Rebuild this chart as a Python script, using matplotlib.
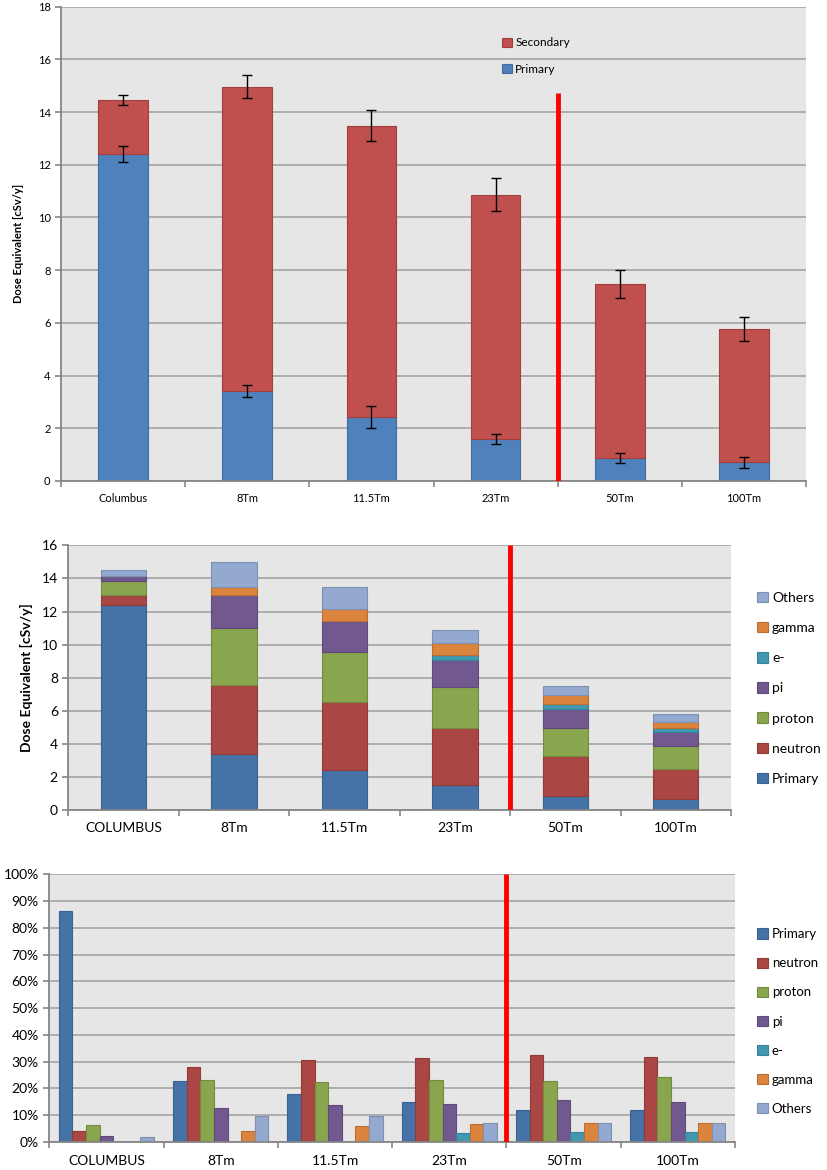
import numpy as np
import matplotlib.pyplot as plt
from matplotlib.ticker import PercentFormatter, FixedLocator

plt.rcParams['font.family'] = ['Lato', 'DejaVu Sans']

top_categories = ["Columbus", "8Tm", "11.5Tm", "23Tm", "50Tm", "100Tm"]
categories = ["COLUMBUS", "8Tm", "11.5Tm", "23Tm", "50Tm", "100Tm"]

# top chart: primary / secondary dose equivalent [cSv/y]
primary_dose = [12.4, 3.42, 2.43, 1.59, 0.88, 0.71]
primary_err = [0.30, 0.24, 0.42, 0.19, 0.18, 0.21]
secondary_dose = [2.05, 11.55, 11.05, 9.28, 6.60, 5.07]
total_err = [0.20, 0.43, 0.59, 0.61, 0.53, 0.45]

# middle chart: contributions per particle [cSv/y]
species = ["Primary", "neutron", "proton", "pi", "e-", "gamma", "Others"]
dose_primary = [12.4, 3.39, 2.42, 1.53, 0.87, 0.69]
dose_neutron = [0.58, 4.17, 4.09, 3.43, 2.40, 1.81]
dose_proton = [0.89, 3.47, 3.03, 2.50, 1.69, 1.37]
dose_pi = [0.30, 1.95, 1.89, 1.59, 1.14, 0.87]
dose_eminus = [0.0, 0.0, 0.0, 0.30, 0.29, 0.19]
dose_gamma = [0.0, 0.53, 0.75, 0.74, 0.56, 0.40]
dose_others = [0.31, 1.49, 1.32, 0.80, 0.56, 0.45]

# bottom chart: relative contributions [%]
pct_primary = [86.3, 22.8, 18.0, 14.8, 12.1, 12.1]
pct_neutron = [4.0, 27.9, 30.7, 31.5, 32.4, 31.8]
pct_proton = [6.3, 23.0, 22.6, 23.2, 22.7, 24.2]
pct_pi = [2.3, 12.8, 14.0, 14.2, 15.6, 14.8]
pct_eminus = [0.0, 0.0, 0.0, 3.4, 3.7, 3.7]
pct_gamma = [0.0, 4.0, 5.9, 6.7, 7.2, 7.2]
pct_others = [1.8, 9.8, 9.8, 7.0, 7.2, 7.2]

colors = ["#4572A7", "#AA4643", "#89A54E", "#71588F", "#4198AF", "#DB843D", "#93A9CF"]
edges = ["#3a6190", "#8f3b38", "#748c42", "#5f4a79", "#37819a", "#b96f33", "#7d90b0"]

bg = "#e6e6e6"
grid_c = "#a9a9a9"
axis_c = "#868686"

x = np.arange(len(categories))


def style_axes(ax, ymax, ystep, tick_size):
    ax.set_facecolor(bg)
    ax.set_xlim(-0.5, len(categories) - 0.5)
    ax.set_ylim(0, ymax)
    ax.set_yticks(np.arange(0, ymax + ystep / 2, ystep))
    ax.yaxis.grid(True, color=grid_c, linewidth=1.3)
    ax.set_axisbelow(True)
    for s in ["top", "right"]:
        ax.spines[s].set_visible(False)
    for s in ["left", "bottom"]:
        ax.spines[s].set_color(axis_c)
        ax.spines[s].set_linewidth(1.3)
    ax.xaxis.set_minor_locator(FixedLocator(np.arange(-0.5, len(categories), 1.0)))
    ax.tick_params(axis="x", which="major", length=0, labelsize=tick_size, pad=9)
    ax.tick_params(axis="x", which="minor", length=4, color=axis_c, width=1.2)
    ax.tick_params(axis="y", length=4, color=axis_c, width=1.2, labelsize=tick_size)


fig = plt.figure(figsize=(8.27, 11.70), dpi=100)

# ---- top chart
ax1 = fig.add_axes([0.0738, 0.5889, 0.9008, 0.4054])
style_axes(ax1, 18, 2, 8)
b1 = ax1.bar(x, primary_dose, width=0.40, color="#4F81BD", edgecolor="#416d9f",
             linewidth=0.8, label="Primary")
b2 = ax1.bar(x, secondary_dose, width=0.40, bottom=primary_dose, color="#C0504D",
             edgecolor="#a03f3c", linewidth=0.8, label="Secondary")
totals = np.array(primary_dose) + np.array(secondary_dose)
ax1.errorbar(x, primary_dose, yerr=primary_err, fmt="none", ecolor="black",
             elinewidth=1, capsize=3.5, capthick=1)
ax1.errorbar(x, totals, yerr=total_err, fmt="none", ecolor="black",
             elinewidth=1, capsize=3.5, capthick=1)
ax1.vlines(3.5, 0, 14.73, color="red", linewidth=3.5, zorder=5)
ax1.set_xticks(x)
ax1.set_xticklabels(top_categories)
ax1.set_ylabel("Dose Equivalent [cSv/y]", fontsize=8, fontweight="bold", labelpad=10)
ax1.legend([b2, b1], ["Secondary", "Primary"], loc="upper left",
           bbox_to_anchor=(0.578, 0.958), frameon=False, fontsize=8.5,
           handlelength=0.8, handleheight=0.8, handletextpad=0.3, labelspacing=1.3)

# ---- middle chart
ax2 = fig.add_axes([0.0826, 0.3077, 0.8014, 0.2262])
style_axes(ax2, 16, 2, 10)
stack = [dose_primary, dose_neutron, dose_proton, dose_pi, dose_eminus, dose_gamma, dose_others]
bottom = np.zeros(len(categories))
handles = []
for vals, c, e, name in zip(stack, colors, edges, species):
    h = ax2.bar(x, vals, width=0.41, bottom=bottom, color=c, edgecolor=e,
                linewidth=0.8, label=name)
    handles.append(h)
    bottom = bottom + np.array(vals)
ax2.vlines(3.5, 0, 16, color="red", linewidth=3.5, zorder=5)
ax2.set_xticks(x)
ax2.set_xticklabels(categories)
ax2.set_ylabel("Dose Equivalent [cSv/y]", fontsize=10, fontweight="bold", labelpad=6)
ax2.legend(handles[::-1], species[::-1], loc="center left",
           bbox_to_anchor=(1.02, 0.46), frameon=False, fontsize=10,
           handlelength=0.8, handleheight=0.8, handletextpad=0.3, labelspacing=1.3)

# ---- bottom chart
ax3 = fig.add_axes([0.0596, 0.0239, 0.8292, 0.2288])
style_axes(ax3, 100, 10, 10)
groups = [pct_primary, pct_neutron, pct_proton, pct_pi, pct_eminus, pct_gamma, pct_others]
bw = 0.119
handles3 = []
for i, (vals, c, e, name) in enumerate(zip(groups, colors, edges, species)):
    h = ax3.bar(x + (i - 3) * bw, vals, width=bw, color=c, edgecolor=e,
                linewidth=0.8, label=name)
    handles3.append(h)
ax3.vlines(3.5, 0, 100, color="red", linewidth=3.5, zorder=5)
ax3.yaxis.set_major_formatter(PercentFormatter(decimals=0))
ax3.set_xticks(x)
ax3.set_xticklabels(categories)
ax3.legend(handles3, species, loc="center left",
           bbox_to_anchor=(1.015, 0.45), frameon=False, fontsize=9.5,
           handlelength=0.8, handleheight=0.8, handletextpad=0.3, labelspacing=1.3)

fig.savefig("out.png", dpi=100)
plt.close(fig)
